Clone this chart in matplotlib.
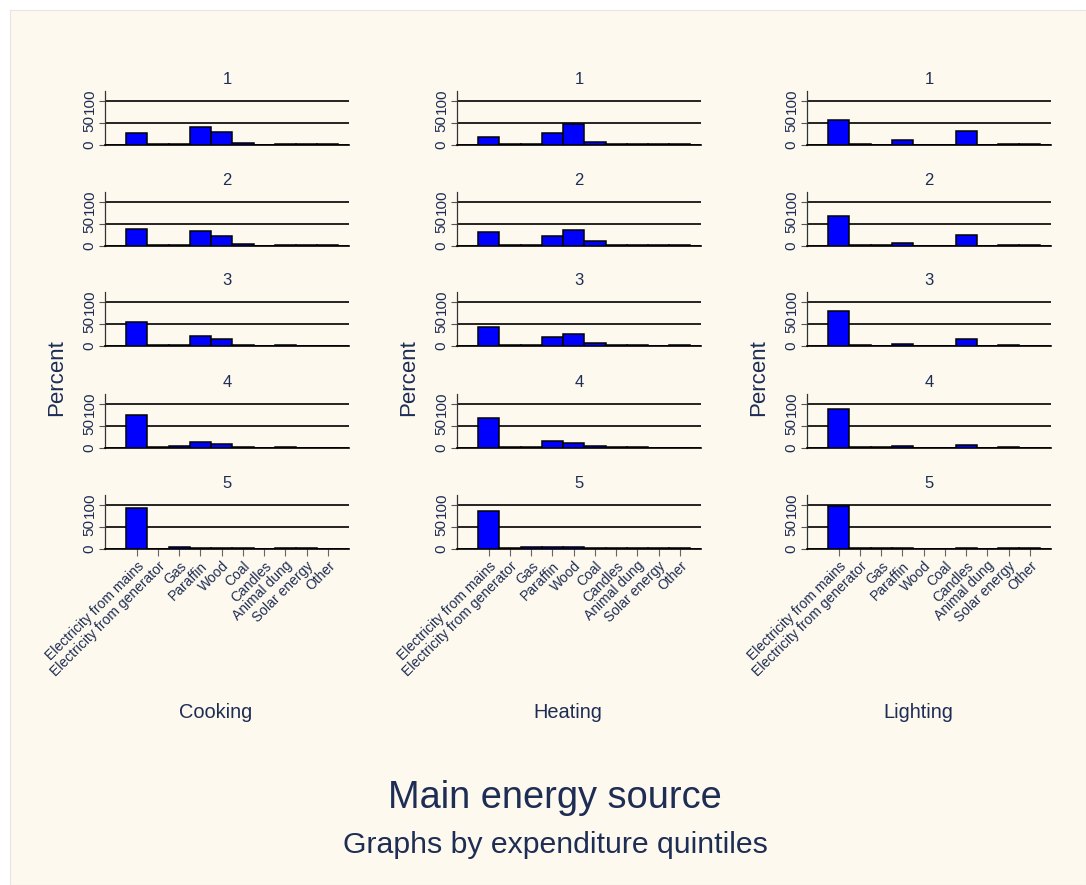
import matplotlib
matplotlib.use("Agg")
import matplotlib.pyplot as plt
import numpy as np

plt.rcParams['font.family'] = ['Liberation Sans', 'DejaVu Sans']

categories = ["Electricity from mains", "Electricity from generator", "Gas", "Paraffin",
              "Wood", "Coal", "Candles", "Animal dung", "Solar energy", "Other"]
quintiles = ["1", "2", "3", "4", "5"]
panel_titles = ["Cooking", "Heating", "Lighting"]

cooking = [
    [27, 1.5, 1.5, 41, 30, 4, 0, 1.5, 1.5, 1.5],
    [40, 1.5, 1.5, 35, 23, 4, 0, 1.5, 1.5, 1.5],
    [56, 1.5, 3, 22, 17, 3, 0, 2, 0, 0],
    [76, 1.5, 4, 13, 9, 2, 0, 2, 0, 0],
    [94, 1, 4, 2, 2, 2, 0, 2, 2, 0],
]
heating = [
    [19, 1.5, 1.5, 28, 49, 8, 1.5, 1.5, 1.5, 1.5],
    [31, 1.5, 1.5, 24, 36, 11, 1.5, 1.5, 1.5, 1.5],
    [44, 1.5, 1.5, 20, 27, 8, 1.5, 1.5, 0, 1.5],
    [69, 1.5, 1.5, 16, 12, 5, 1.5, 1.5, 0, 0],
    [88, 1.5, 5, 5, 4, 2, 1.5, 2, 2, 2],
]
lighting = [
    [57, 1.5, 0, 11, 0, 0, 33, 0, 1.5, 1.5],
    [69, 1.5, 1.5, 7, 0, 0, 25, 0, 1.5, 1.5],
    [80, 1.5, 0, 4, 0, 0, 15, 0, 1.5, 0],
    [90, 1.5, 1.5, 4, 0, 0, 7, 0, 2, 0],
    [98, 1.5, 1.5, 1.5, 0, 0, 1.5, 0, 1.5, 1.5],
]
yticks = [0, 50, 100]

W, H = 1086, 885
NAVY = '#1E2D54'
CREAM = '#FDF9EE'

fig = plt.figure(figsize=(W / 100, H / 100), dpi=100)
fig.patch.set_facecolor('white')
bg = fig.add_axes([10 / W, 0, 1 - 10 / W, 1 - 10 / H], zorder=-10)
bg.set_facecolor(CREAM)
bg.set_xticks([])
bg.set_yticks([])
for s in bg.spines.values():
    s.set_color('#E6E6E6')
    s.set_linewidth(0.8)

col_left = [105, 457, 807]
col_width = 244
row_bottom = [145, 246, 346, 448, 549]
ax_h = 54.5

datasets = [cooking, heating, lighting]
x = np.arange(len(categories))

for c, data in enumerate(datasets):
    for r in range(5):
        ax = fig.add_axes([col_left[c] / W, 1 - row_bottom[r] / H,
                           col_width / W, ax_h / H])
        ax.set_facecolor('none')
        vals = np.array(data[r], dtype=float)
        ax.bar(x, vals, width=1.0, color='#0000FF', edgecolor='black',
               linewidth=1.1, zorder=3)
        ax.set_xlim(-1.5, 10)
        ax.set_ylim(0, 125)
        ax.set_yticks(yticks)
        ax.set_yticklabels([str(v) for v in yticks], rotation=90, va='center',
                           fontsize=11, color=NAVY)
        ax.yaxis.grid(True, color='black', linewidth=1.2, zorder=1)
        ax.set_axisbelow(True)
        ax.tick_params(axis='y', length=4, width=0.8, color='#555555', pad=2)
        for s in ['top', 'right']:
            ax.spines[s].set_visible(False)
        ax.spines['left'].set_color('#333333')
        ax.spines['left'].set_linewidth(0.9)
        ax.spines['bottom'].set_color('black')
        ax.spines['bottom'].set_linewidth(1.2)
        ax.set_title(quintiles[r], fontsize=12, color=NAVY, pad=5)
        if r == 4:
            ax.set_xticks(x)
            ax.set_xticklabels(categories, rotation=45, ha='right', va='top',
                               rotation_mode='anchor', fontsize=10, color=NAVY)
            ax.tick_params(axis='x', length=5, width=0.8, color='#666666', pad=2)
        else:
            ax.set_xticks([])
    cx = (col_left[c] + col_width / 2 - 11) / W
    fig.text(cx, 1 - 712 / H, panel_titles[c], ha='center', va='center',
             fontsize=14.4, color=NAVY)
    fig.text((col_left[c] - 48) / W, 1 - 378 / H, 'Percent', rotation=90,
             ha='center', va='center', fontsize=16, color=NAVY)

fig.text(555 / W, 1 - 798 / H, 'Main energy source', ha='center', va='center',
         fontsize=27.4, color=NAVY)
fig.text(555 / W, 1 - 845 / H, 'Graphs by expenditure quintiles', ha='center',
         va='center', fontsize=21.8, color=NAVY)

fig.savefig('out.png', dpi=100, facecolor=fig.get_facecolor())
